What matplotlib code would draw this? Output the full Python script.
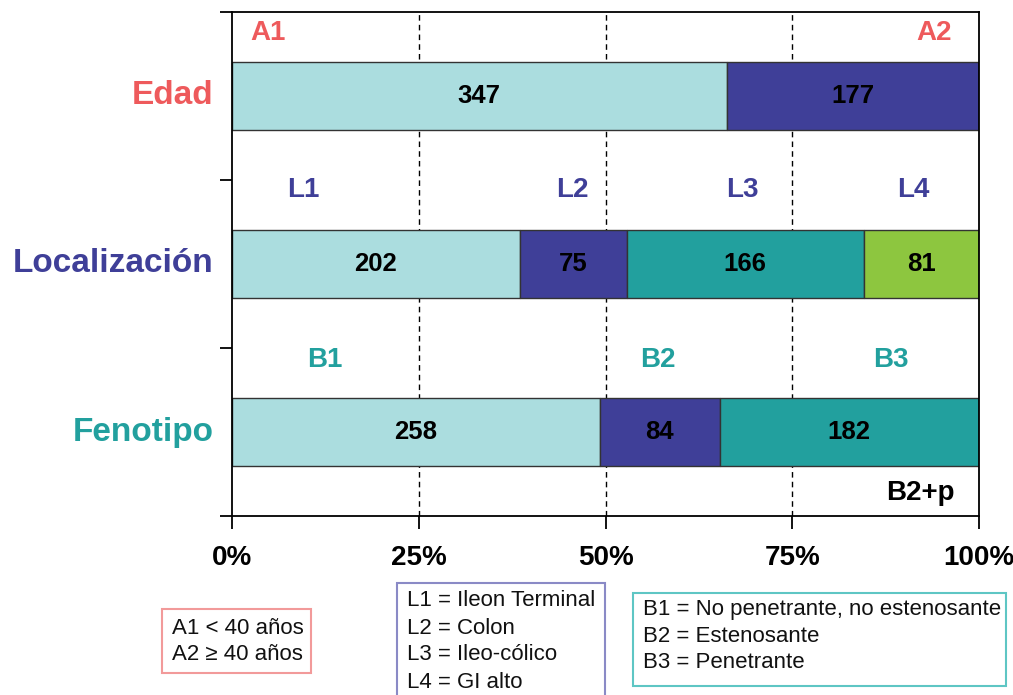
import matplotlib
matplotlib.use('Agg')
import matplotlib.pyplot as plt
from matplotlib.patches import Rectangle

plt.rcParams['font.family'] = ['Liberation Sans', 'DejaVu Sans']

# counts per group (n = 524 patients)
categories = ['Edad', 'Localización', 'Fenotipo']
edad = [347, 177]
localizacion = [202, 75, 166, 81]
fenotipo = [258, 84, 182]
edad_groups = ['A1', 'A2']
loc_groups = ['L1', 'L2', 'L3', 'L4']
fen_groups = ['B1', 'B2', 'B3']
x_ticks = [0, 25, 50, 75, 100]
x_tick_labels = ['0%', '25%', '50%', '75%', '100%']

edad_legend = ['A1 < 40 años', 'A2 ≥ 40 años']
loc_legend = ['L1 = Ileon Terminal', 'L2 = Colon', 'L3 = Ileo-cólico', 'L4 = GI alto']
fen_legend = ['B1 = No penetrante, no estenosante', 'B2 = Estenosante', 'B3 = Penetrante']

light = '#ABDDDF'
navy = '#3F3F98'
teal = '#22A09E'
lime = '#8DC63F'
coral = '#EE5A5C'

rows = [
    (edad, edad_groups, [light, navy], coral, 2.5, [4.8, 94.0], 2.875),
    (localizacion, loc_groups, [light, navy, teal, lime], navy, 1.5, [9.5, 45.5, 68.3, 91.2], 1.94),
    (fenotipo, fen_groups, [light, navy, teal], teal, 0.5, [12.4, 57.0, 88.2], 0.93),
]

fig = plt.figure(figsize=(10.13, 6.95), dpi=100)
ax = fig.add_axes([232 / 1013, 179 / 695, 747 / 1013, 504 / 695])

for name, (vals, groups, colors, tcol, ypos, gx, gy) in zip(categories, rows):
    total = sum(vals)
    left = 0
    for v, c in zip(vals, colors):
        w = v / total * 100
        ax.barh(ypos, w, left=left, height=0.405, color=c,
                edgecolor='#333333', linewidth=1, zorder=2)
        ax.text(left + w / 2, ypos, str(v), ha='center', va='center',
                fontsize=18.5, fontweight='bold', color='black', zorder=3)
        left += w
    for g, x in zip(groups, gx):
        ax.text(x, gy, g, ha='center', va='center', fontsize=20,
                fontweight='bold', color=tcol)
    ax.text(-0.025, ypos, name, transform=ax.get_yaxis_transform(),
            ha='right', va='center', fontsize=24, fontweight='bold', color=tcol)

ax.text(92.2, 0.137, 'B2+p', ha='center', va='center', fontsize=20,
        fontweight='bold', color='black')

ax.set_xlim(0, 100)
ax.set_ylim(0, 3)
ax.set_xticks(x_ticks)
ax.set_xticklabels(x_tick_labels, fontsize=20, fontweight='bold')
ax.set_yticks([0, 1, 2, 3])
ax.set_yticklabels([])
ax.tick_params(axis='x', length=9, width=1.3, pad=12)
ax.tick_params(axis='y', length=9, width=1.3)
for x in x_ticks[1:-1]:
    ax.axvline(x, color='black', linestyle=(0, (4, 3)), linewidth=1, zorder=1)
for s in ax.spines.values():
    s.set_linewidth(1.3)

# legend boxes under the chart
def legend_box(x0, y_top, x1, y_bot, edge, lines, tx, ty, step):
    fig.patches.append(Rectangle((x0 / 1013, 1 - y_bot / 695),
                                 (x1 - x0) / 1013, (y_bot - y_top) / 695,
                                 transform=fig.transFigure, fill=False,
                                 edgecolor=edge, linewidth=1.5))
    for i, t in enumerate(lines):
        fig.text(tx / 1013, 1 - (ty + i * step) / 695, t, ha='left',
                 va='center', fontsize=16, color='#111111')

legend_box(162, 609, 311, 673, '#F29A9A', edad_legend, 172, 628, 27)
legend_box(397, 583, 605, 705, '#8A8AC6', loc_legend, 407, 601, 27)
legend_box(633, 593, 1006, 686, '#5EC6C4', fen_legend, 643, 610, 26.5)

fig.savefig('out.png', dpi=100)
